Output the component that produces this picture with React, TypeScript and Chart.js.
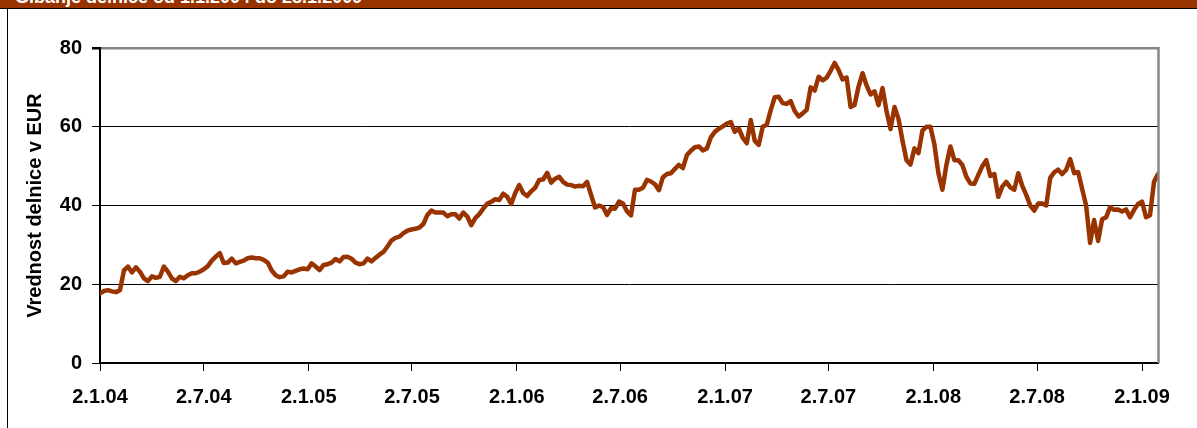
import React, { useEffect, useRef } from 'react';
import { Chart, registerables } from 'chart.js';

Chart.register(...registerables);

const HEADER_TITLE = 'Gibanje delnice od 1.1.2004 do 28.1.2009';
const Y_TITLE = 'Vrednost delnice v EUR';
const START_DATE = '2004-01-02';
const END_DATE = '2009-01-30';
const SAMPLE_STEP_DAYS = 7;

// weekly closing prices (EUR)
const PRICES: number[] = [
  17.7, 18.3, 18.5, 18.2, 18.0, 18.5, 23.5, 24.5, 23.0, 24.3,
  23.2, 21.5, 20.8, 22.0, 21.6, 21.9, 24.5, 23.2, 21.5, 20.8,
  21.9, 21.5, 22.3, 22.8, 22.8, 23.2, 23.8, 24.6, 26.0, 27.0,
  27.9, 25.4, 25.5, 26.5, 25.3, 25.7, 26.0, 26.6, 26.8, 26.6,
  26.6, 26.2, 25.5, 23.5, 22.3, 21.8, 22.0, 23.2, 23.0, 23.4,
  23.8, 24.0, 23.8, 25.3, 24.5, 23.6, 24.9, 25.1, 25.5, 26.4,
  25.8, 26.9, 27.0, 26.5, 25.5, 25.1, 25.3, 26.5, 25.8, 26.7,
  27.5, 28.2, 29.6, 31.1, 31.8, 32.1, 33.0, 33.6, 33.9, 34.1,
  34.4, 35.3, 37.6, 38.7, 38.2, 38.2, 38.2, 37.3, 37.8, 37.8,
  36.7, 38.2, 37.2, 35.0, 36.8, 37.8, 39.2, 40.5, 40.9, 41.6,
  41.4, 43.0, 42.2, 40.4, 43.2, 45.2, 43.2, 42.4, 43.6, 44.5,
  46.5, 46.6, 48.3, 45.8, 46.8, 47.3, 46.0, 45.3, 45.2, 44.8,
  45.0, 44.9, 46.0, 42.7, 39.5, 40.0, 39.6, 37.6, 39.3, 39.2,
  41.0, 40.5, 38.5, 37.5, 44.0, 44.0, 44.5, 46.5, 46.1, 45.4,
  43.9, 47.2, 48.0, 48.2, 49.3, 50.3, 49.5, 52.8, 53.9, 54.8,
  55.0, 54.0, 54.5, 57.3, 58.7, 59.5, 60.1, 60.8, 61.2, 58.7,
  59.6, 57.2, 55.8, 61.7, 56.4, 55.4, 60.0, 60.5, 64.2, 67.5,
  67.6, 66.0, 65.8, 66.5, 64.0, 62.6, 63.4, 64.3, 70.0, 69.2,
  72.7, 71.8, 72.5, 74.2, 76.2, 74.4, 72.0, 72.5, 65.0, 65.5,
  70.2, 73.6, 70.5, 68.2, 69.0, 65.5, 69.8, 64.0, 59.4, 65.0,
  62.0, 56.5, 51.5, 50.4, 54.5, 53.3, 59.0, 60.0, 60.0, 55.5,
  48.2, 44.0, 50.3, 55.0, 51.5, 51.5, 50.3, 47.3, 45.6, 45.5,
  47.8, 50.0, 51.5, 47.5, 48.0, 42.2, 44.8, 46.0, 44.6, 44.0,
  48.2, 45.0, 42.7, 40.0, 38.7, 40.5, 40.5, 40.0, 47.0, 48.4,
  49.1, 48.0, 49.1, 51.8, 48.2, 48.5, 44.2, 40.0, 30.5, 36.3,
  31.0, 36.5, 37.0, 39.6, 38.9, 39.0, 38.5, 39.0, 37.0, 38.9,
  40.4, 41.0, 37.0, 37.5, 46.0, 48.0,
];

const TICK_DATES = [
  '2004-01-02', '2004-07-02', '2005-01-02', '2005-07-02', '2006-01-02', '2006-07-02',
  '2007-01-02', '2007-07-02', '2008-01-02', '2008-07-02', '2009-01-02',
];
const TICK_LABELS = [
  '2.1.04', '2.7.04', '2.1.05', '2.7.05', '2.1.06', '2.7.06',
  '2.1.07', '2.7.07', '2.1.08', '2.7.08', '2.1.09',
];

const Y_MIN = 0;
const Y_MAX = 80;
const Y_STEP = 20;

const FONT_FAMILY = '"Liberation Sans", Arial, sans-serif';

function dayOffset(d: string): number {
  const [y, m, dd] = d.split('-').map(Number);
  const [y0, m0, d0] = START_DATE.split('-').map(Number);
  return Math.round((Date.UTC(y, m - 1, dd) - Date.UTC(y0, m0 - 1, d0)) / 86400000);
}

const plotFrame = {
  id: 'plotFrame',
  afterDraw(chart: any) {
    const { ctx, chartArea } = chart;
    ctx.save();
    ctx.strokeStyle = '#868686';
    ctx.lineWidth = 2.5;
    ctx.beginPath();
    ctx.moveTo(chartArea.right + 0.5, chartArea.top - 1);
    ctx.lineTo(chartArea.right + 0.5, chartArea.bottom);
    ctx.stroke();
    ctx.restore();
  },
};

export default function App() {
  const canvasRef = useRef<HTMLCanvasElement | null>(null);

  useEffect(() => {
    if (!canvasRef.current) return;
    const points = PRICES.map((v, i) => ({ x: i * SAMPLE_STEP_DAYS, y: v }));
    const tickDays = TICK_DATES.map(dayOffset);
    const font = { family: FONT_FAMILY, size: 20, weight: 'bold' as const };

    const chart = new Chart(canvasRef.current, {
      type: 'line',
      data: {
        datasets: [
          {
            data: points,
            borderColor: '#993300',
            backgroundColor: '#993300',
            borderWidth: 4.5,
            pointRadius: 0,
            tension: 0,
            borderJoinStyle: 'round',
            borderCapStyle: 'round',
          },
        ],
      },
      options: {
        animation: false,
        responsive: false,
        layout: { padding: { top: 39, right: 39, bottom: 0, left: 0 } },
        plugins: {
          legend: { display: false },
          tooltip: { enabled: false },
        },
        scales: {
          x: {
            type: 'linear',
            min: 0,
            max: dayOffset(END_DATE),
            afterBuildTicks: (scale: any) => {
              scale.ticks = tickDays.map((v) => ({ value: v }));
            },
            afterFit: (scale: any) => {
              scale.height = 65;
            },
            ticks: {
              autoSkip: false,
              maxRotation: 0,
              minRotation: 0,
              color: '#000',
              font,
              padding: 14,
              callback: (_v: any, i: number) => TICK_LABELS[i],
            },
            grid: {
              drawOnChartArea: false,
              drawTicks: true,
              tickLength: 8,
              color: '#000',
              lineWidth: 1,
            },
            border: { display: true, color: '#000', width: 2 },
          },
          y: {
            min: Y_MIN,
            max: Y_MAX,
            afterFit: (scale: any) => {
              scale.width = 91;
            },
            ticks: {
              stepSize: Y_STEP,
              color: '#000',
              font,
              padding: 10,
            },
            grid: {
              color: (c: any) => (c.tick && c.tick.value === Y_MAX ? '#868686' : '#000'),
              lineWidth: (c: any) => (c.tick && c.tick.value === Y_MAX ? 2.5 : 1),
              tickColor: '#000',
              tickLength: 8,
            },
            border: { display: true, color: '#000', width: 2 },
            title: {
              display: true,
              text: Y_TITLE,
              color: '#000',
              font,
              padding: { top: 14, bottom: 0 },
            },
          },
        },
      },
      plugins: [plotFrame],
    });
    return () => chart.destroy();
  }, []);

  return (
    <div
      style={{
        position: 'fixed',
        left: 0,
        top: 0,
        width: 1197,
        height: 428,
        background: '#fff',
        overflow: 'hidden',
      }}
    >
      <div
        style={{
          position: 'absolute',
          left: 0,
          top: 0,
          width: 1197,
          height: 8,
          background: '#993300',
          overflow: 'hidden',
        }}
      >
        <span
          style={{
            position: 'absolute',
            left: 15,
            top: -12,
            lineHeight: '18px',
            fontSize: 18,
            fontWeight: 'bold',
            fontFamily: FONT_FAMILY,
            color: '#fff',
            whiteSpace: 'nowrap',
          }}
        >
          {HEADER_TITLE}
        </span>
      </div>
      <div style={{ position: 'absolute', left: 0, top: 8, width: 1197, height: 1, background: '#000' }} />
      <div style={{ position: 'absolute', left: 7, top: 8, width: 1, height: 420, background: '#000' }} />
      <canvas
        ref={canvasRef}
        width={1188}
        height={419}
        style={{ position: 'absolute', left: 9, top: 9, width: 1188, height: 419 }}
      />
    </div>
  );
}
